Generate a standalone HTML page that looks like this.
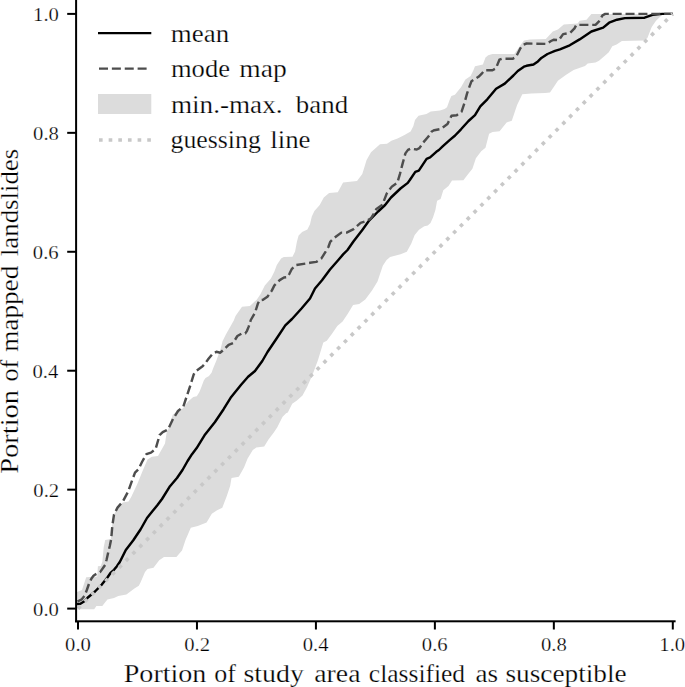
<!DOCTYPE html>
<html><head><meta charset="utf-8"><style>
html,body{margin:0;padding:0;background:#fff;}
body{width:685px;height:687px;overflow:hidden;}
svg{display:block;font-family:"Liberation Serif", serif;}
text{fill:#000;stroke:#fff;stroke-width:0.25px;}
</style></head><body>
<svg width="685" height="687" viewBox="0 0 685 687">
<polygon points="77.0,592.0 82.0,590.0 86.2,577.2 97.2,576.5 97.9,566.3 100.8,565.9 102.3,561.9 103.7,547.3 105.2,540.0 111.0,539.0 112.0,526.0 114.0,514.6 117.5,507.6 122.8,502.4 128.5,501.5 131.2,497.1 137.3,484.0 143.0,470.0 147.5,459.4 151.9,456.8 158.0,455.9 161.5,449.8 165.0,443.6 166.8,431.4 168.5,428.8 171.2,420.0 172.7,414.7 177.5,411.2 182.8,408.5 188.0,401.5 193.3,397.1 196.8,396.3 199.4,391.9 201.2,387.5 203.8,380.5 205.5,377.9 209.0,376.1 211.7,372.6 212.5,370.0 213.8,366.7 216.4,360.5 220.8,348.3 222.5,341.3 226.0,334.3 230.4,326.4 233.9,320.3 235.5,316.0 242.0,306.8 249.9,306.0 256.9,299.4 260.4,294.2 264.8,285.4 270.9,278.4 274.4,271.4 276.8,265.0 281.1,258.4 283.8,257.1 292.5,256.7 295.1,251.4 296.9,241.8 298.6,235.6 302.1,232.1 307.4,229.5 310.0,224.3 311.8,216.4 314.4,211.1 319.7,205.0 323.8,197.5 329.1,193.1 337.8,192.3 343.1,182.6 350.0,181.8 357.0,181.0 362.3,174.1 366.6,160.1 371.0,152.2 378.0,146.1 380.0,144.2 387.0,143.8 391.4,140.7 397.5,138.5 404.5,135.0 410.6,131.5 413.3,126.3 415.0,120.1 418.5,115.8 426.4,114.0 430.8,111.4 440.0,110.5 444.6,109.0 447.0,107.2 449.6,100.0 451.4,96.0 454.9,94.7 461.0,87.3 465.4,79.4 470.6,75.9 473.3,70.6 475.0,66.3 478.5,65.4 482.9,64.5 485.5,57.5 488.2,55.3 492.5,54.0 514.3,54.0 521.3,43.9 524.0,40.5 530.0,39.5 545.8,39.1 552.8,31.6 557.9,29.6 563.8,24.6 577.6,23.6 579.6,20.7 586.5,19.7 591.4,13.9 672.8,13.9 672.8,13.9 668.2,13.9 662.3,14.8 656.0,20.8 651.7,26.9 647.3,38.3 643.8,40.5 621.9,40.9 616.6,44.4 612.3,46.2 608.8,52.3 606.0,54.7 599.0,60.8 595.5,62.5 587.7,63.4 585.0,66.0 573.6,70.0 565.8,74.9 557.9,80.8 553.9,86.7 550.0,92.5 545.1,93.0 531.1,93.4 522.3,94.2 517.1,105.0 511.8,120.7 506.6,122.4 499.6,131.2 492.6,132.0 489.1,133.8 485.5,147.8 481.2,151.3 475.9,158.3 472.4,168.8 467.8,174.5 463.4,180.2 452.0,180.6 448.5,185.9 443.3,190.3 440.6,199.0 437.1,200.8 435.4,210.0 433.0,217.5 430.5,223.0 427.8,225.4 424.3,226.3 419.0,229.8 414.7,235.0 411.2,243.8 406.8,251.7 400.6,254.3 390.1,256.9 386.6,260.0 382.8,265.8 377.5,281.6 372.0,290.4 365.3,299.4 359.2,304.0 353.1,304.9 347.8,313.7 342.6,321.5 337.3,325.9 332.0,333.8 326.8,340.8 323.3,342.6 318.0,360.1 312.8,374.1 309.5,381.5 307.1,387.0 302.5,395.5 296.6,400.8 292.2,403.7 287.8,412.4 286.1,413.3 282.6,416.8 277.3,427.3 273.8,432.6 268.5,439.6 264.2,446.6 256.3,447.4 252.8,450.1 247.5,458.8 244.0,467.6 238.8,476.7 231.5,478.0 230.2,485.8 226.7,496.3 222.3,507.7 217.1,510.3 211.8,513.8 206.6,522.6 197.8,526.1 190.8,527.8 185.5,540.1 182.0,550.6 176.4,557.0 164.0,557.0 159.2,560.2 153.5,567.7 147.5,568.9 145.0,572.0 140.5,582.5 138.8,585.7 134.4,588.6 126.4,594.5 118.3,595.9 114.0,598.1 107.4,599.6 102.3,606.1 96.4,606.1 94.2,609.3 77.5,609.3" fill="#dcdcdc" stroke="none"/>
<polyline points="77.0,604.0 80.4,603.7 84.8,601.0 87.6,597.8 95.0,591.5 101.8,584.6 107.4,577.5 110.5,573.0 114.0,569.8 116.9,566.3 119.8,562.0 125.8,550.0 133.3,540.2 140.5,529.5 147.0,518.0 152.6,511.1 157.5,505.0 162.0,499.0 170.0,486.2 177.0,478.0 182.5,470.0 187.6,461.0 192.0,454.2 196.5,448.3 204.5,435.3 215.0,422.0 223.6,409.2 230.6,397.8 241.1,384.7 248.1,376.8 255.0,371.0 262.3,361.0 267.5,352.0 276.6,338.5 285.3,325.3 292.0,319.0 301.5,308.5 310.0,298.5 315.0,288.5 322.0,280.3 330.0,269.5 333.5,265.5 337.9,260.5 343.1,254.4 347.5,250.0 353.6,241.3 362.3,229.9 369.3,220.3 378.1,211.5 385.1,205.0 391.0,197.5 400.5,188.5 407.8,182.9 410.0,179.8 415.3,171.9 418.8,170.6 426.6,158.8 430.1,157.4 436.3,151.8 438.9,150.0 442.9,146.1 449.9,139.9 455.1,135.5 461.0,129.3 468.5,121.0 475.0,115.1 480.3,106.4 487.3,99.3 496.1,88.8 504.8,83.6 513.4,75.5 517.8,71.0 523.9,66.7 526.5,65.8 533.5,64.5 537.9,61.4 541.4,57.9 547.5,54.0 555.0,50.9 559.9,49.3 569.7,45.3 579.6,39.4 591.4,31.5 603.2,27.6 609.1,22.7 617.0,19.7 624.9,18.1 644.6,17.7 652.5,14.8 662.3,13.9 672.8,13.9" fill="none" stroke="#000" stroke-width="2.43" stroke-linejoin="round" stroke-linecap="butt"/>
<polyline points="77.5,601.5 81.8,599.3 84.7,595.6 87.0,589.5 89.1,583.5 91.5,578.5 93.5,575.8 95.7,574.3 100.1,572.1 103.7,567.0 105.2,564.8 106.7,559.2 108.3,552.0 109.8,546.0 111.2,539.0 112.3,526.0 114.0,514.6 117.5,507.6 122.8,501.5 128.0,491.8 132.4,479.6 135.0,472.6 138.5,469.1 142.0,462.0 146.4,454.2 151.0,452.6 155.6,449.0 159.6,435.2 162.7,432.2 168.0,429.5 173.0,419.0 178.0,411.0 183.3,406.6 186.8,396.1 190.3,385.5 193.8,374.2 196.4,370.7 202.6,366.3 205.0,363.6 208.5,358.8 212.9,353.5 216.4,351.8 220.3,352.7 223.8,349.6 228.6,344.8 233.0,343.0 237.4,336.0 241.8,333.4 245.3,333.4 247.0,330.8 248.8,326.4 250.8,320.0 255.1,312.5 257.8,303.8 259.5,300.3 263.0,299.8 267.4,296.8 271.8,290.6 274.4,285.4 279.7,280.1 284.0,277.5 287.5,277.1 289.3,274.0 291.9,268.8 295.5,265.2 310.0,262.8 316.2,261.9 321.4,258.4 325.8,251.4 328.4,247.0 330.2,241.8 332.8,239.2 336.1,236.5 341.3,232.6 346.6,232.6 353.6,229.1 360.6,222.9 365.8,221.2 367.3,220.6 371.1,218.2 374.6,212.4 376.4,208.9 382.4,204.8 386.8,193.4 392.0,186.4 397.3,182.9 399.9,174.1 402.6,163.6 403.6,160.0 405.4,153.4 408.0,149.9 410.6,148.6 416.8,149.5 419.4,148.2 422.9,142.9 428.2,136.8 431.7,131.5 434.3,130.2 440.5,129.0 447.5,124.0 451.5,115.7 456.7,115.2 461.5,111.8 464.5,102.9 467.1,93.4 468.9,88.2 471.5,81.2 475.0,79.0 478.5,76.8 482.0,73.3 484.7,70.2 492.5,70.2 495.9,68.4 499.4,59.7 502.0,58.8 512.5,58.8 516.0,57.0 520.4,48.3 523.0,44.8 526.5,43.5 546.7,43.9 551.0,41.0 553.5,39.8 558.8,40.2 563.1,34.1 570.1,32.8 574.5,28.4 576.3,24.9 595.5,24.9 599.0,21.4 602.5,15.3 605.2,13.9 672.8,13.9" fill="none" stroke="#4d4d4d" stroke-width="2.43" stroke-dasharray="9.0 3.87" stroke-linejoin="round" stroke-linecap="butt"/>
<line x1="78.0" y1="608.6" x2="672.8" y2="13.9" stroke="#c8c8c8" stroke-width="3.64" stroke-dasharray="3.64 6.01"/>
<rect x="75.1" y="0" width="2" height="622.3" fill="#000"/>
<rect x="75.1" y="620.3" width="600.5" height="2" fill="#000"/>
<rect x="67.2" y="607.60" width="9" height="2" fill="#000"/>
<text x="33.08" y="615.50" font-size="19" textLength="25.83" lengthAdjust="spacingAndGlyphs">0.0</text>
<rect x="77.00" y="621" width="2" height="8.5" fill="#000"/>
<text x="65.08" y="651.0" font-size="19" textLength="25.83" lengthAdjust="spacingAndGlyphs">0.0</text>
<rect x="67.2" y="488.66" width="9" height="2" fill="#000"/>
<text x="33.36" y="496.56" font-size="19" textLength="25.83" lengthAdjust="spacingAndGlyphs">0.2</text>
<rect x="195.96" y="621" width="2" height="8.5" fill="#000"/>
<text x="184.18" y="651.0" font-size="19" textLength="25.83" lengthAdjust="spacingAndGlyphs">0.2</text>
<rect x="67.2" y="369.72" width="9" height="2" fill="#000"/>
<text x="32.54" y="377.62" font-size="19" textLength="25.83" lengthAdjust="spacingAndGlyphs">0.4</text>
<rect x="314.92" y="621" width="2" height="8.5" fill="#000"/>
<text x="302.73" y="651.0" font-size="19" textLength="25.83" lengthAdjust="spacingAndGlyphs">0.4</text>
<rect x="67.2" y="250.78" width="9" height="2" fill="#000"/>
<text x="32.81" y="258.68" font-size="19" textLength="25.83" lengthAdjust="spacingAndGlyphs">0.6</text>
<rect x="433.88" y="621" width="2" height="8.5" fill="#000"/>
<text x="421.83" y="651.0" font-size="19" textLength="25.83" lengthAdjust="spacingAndGlyphs">0.6</text>
<rect x="67.2" y="131.84" width="9" height="2" fill="#000"/>
<text x="33.08" y="139.74" font-size="19" textLength="25.83" lengthAdjust="spacingAndGlyphs">0.8</text>
<rect x="552.84" y="621" width="2" height="8.5" fill="#000"/>
<text x="540.92" y="651.0" font-size="19" textLength="25.83" lengthAdjust="spacingAndGlyphs">0.8</text>
<rect x="67.2" y="12.90" width="9" height="2" fill="#000"/>
<text x="33.08" y="20.80" font-size="19" textLength="25.83" lengthAdjust="spacingAndGlyphs">1.0</text>
<rect x="671.80" y="621" width="2" height="8.5" fill="#000"/>
<text x="659.34" y="651.0" font-size="19" textLength="25.83" lengthAdjust="spacingAndGlyphs">1.0</text>
<text x="123.76" y="681.70" font-size="25" textLength="82.66" lengthAdjust="spacingAndGlyphs">Portion</text>
<text x="214.26" y="681.70" font-size="25" textLength="21.62" lengthAdjust="spacingAndGlyphs">of</text>
<text x="243.48" y="681.70" font-size="25" textLength="60.42" lengthAdjust="spacingAndGlyphs">study</text>
<text x="314.29" y="681.70" font-size="25" textLength="46.23" lengthAdjust="spacingAndGlyphs">area</text>
<text x="368.88" y="681.70" font-size="25" textLength="96.19" lengthAdjust="spacingAndGlyphs">classified</text>
<text x="475.42" y="681.70" font-size="25" textLength="22.58" lengthAdjust="spacingAndGlyphs">as</text>
<text x="505.41" y="681.70" font-size="25" textLength="121.21" lengthAdjust="spacingAndGlyphs">susceptible</text>
<g transform="translate(18.2 0) rotate(-90)"><text x="-473.86" y="0.00" font-size="25" textLength="83.98" lengthAdjust="spacingAndGlyphs">Portion</text><text x="-381.44" y="0.00" font-size="25" textLength="21.72" lengthAdjust="spacingAndGlyphs">of</text><text x="-351.84" y="0.00" font-size="25" textLength="86.07" lengthAdjust="spacingAndGlyphs">mapped</text><text x="-256.14" y="0.00" font-size="25" textLength="107.31" lengthAdjust="spacingAndGlyphs">landslides</text></g>
<line x1="98" y1="33.1" x2="151.3" y2="33.1" stroke="#000" stroke-width="2.43"/>
<line x1="99" y1="68.6" x2="147" y2="68.6" stroke="#4d4d4d" stroke-width="2.43" stroke-dasharray="9.0 3.87"/>
<rect x="98" y="94" width="53.3" height="20" fill="#dcdcdc"/>
<line x1="99" y1="140" x2="151.3" y2="140" stroke="#c8c8c8" stroke-width="3.64" stroke-dasharray="3.64 6.01"/>
<text x="170.86" y="41.60" font-size="25" textLength="58.26" lengthAdjust="spacingAndGlyphs">mean</text>
<text x="170.97" y="77.40" font-size="25" textLength="58.98" lengthAdjust="spacingAndGlyphs">mode</text>
<text x="239.25" y="77.40" font-size="25" textLength="47.40" lengthAdjust="spacingAndGlyphs">map</text>
<text x="170.96" y="113.00" font-size="25" textLength="111.56" lengthAdjust="spacingAndGlyphs">min.-max.</text>
<text x="295.80" y="113.00" font-size="25" textLength="52.29" lengthAdjust="spacingAndGlyphs">band</text>
<text x="170.47" y="148.40" font-size="25" textLength="90.35" lengthAdjust="spacingAndGlyphs">guessing</text>
<text x="270.26" y="148.40" font-size="25" textLength="40.21" lengthAdjust="spacingAndGlyphs">line</text>
</svg>
</body></html>
